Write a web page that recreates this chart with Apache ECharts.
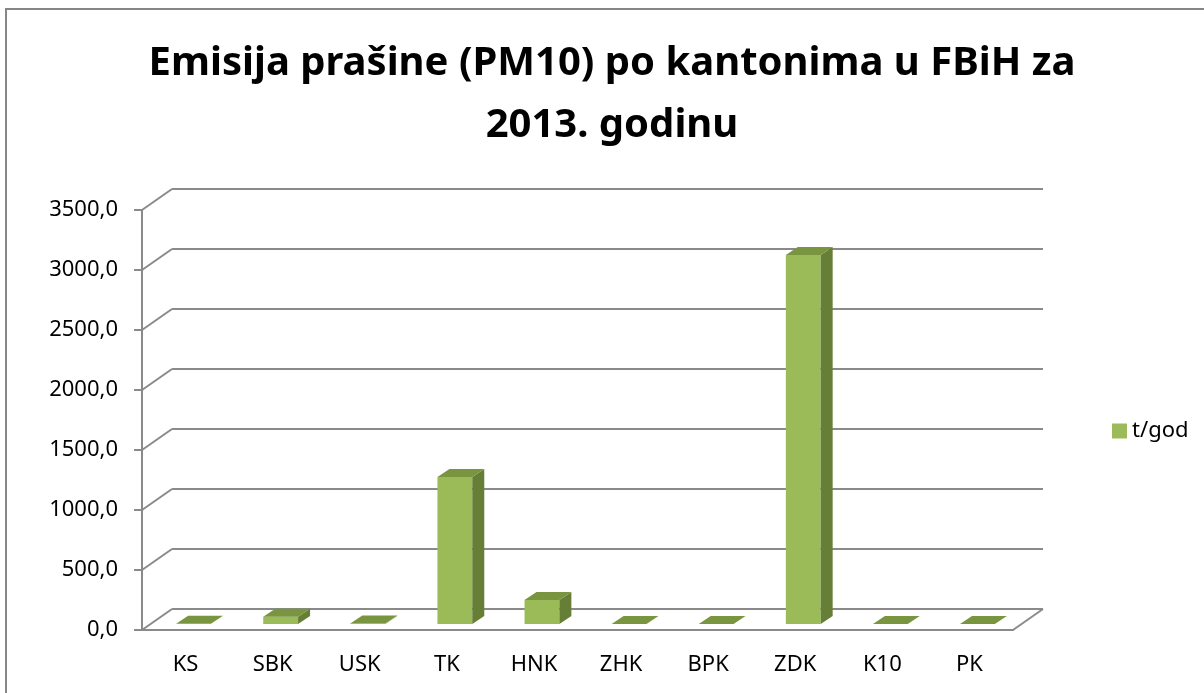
<!DOCTYPE html>
<html>
<head>
<meta charset="utf-8">
<script src="https://cdn.jsdelivr.net/npm/echarts@6/dist/echarts.min.js"></script>
<style>
  html, body { margin: 0; padding: 0; background: #fff; }
  #chart { width: 1204px; height: 693px; }
</style>
</head>
<body>
<div id="chart"></div>
<script>
var categories = ['KS', 'SBK', 'USK', 'TK', 'HNK', 'ZHK', 'BPK', 'ZDK', 'K10', 'PK']
var values = [3, 60, 5, 1225, 200, 1, 1, 3075, 0, 0]
var ticks = [0, 500, 1000, 1500, 2000, 2500, 3000, 3500]
var seriesName = 't/god'

// depth of the "3D" wall and bars
var wallDx = 30, wallDy = -21
var barDx = 12, barDy = -8
var barShiftX = 8, barShiftY = -6

var gray = '#8a8a8a'
var font = '"Noto Sans", sans-serif'

function fmt(v) {
    return v.toFixed(1).replace('.', ',')
}

let chart = echarts.init(document.getElementById('chart'));

let option = {
    animation: false,
    graphic: [
        {
            type: 'rect',
            shape: { x: 6, y: 9, width: 1400, height: 900 },
            style: { fill: 'none', stroke: '#868686', lineWidth: 2 },
            silent: true
        },
        {
            type: 'text',
            x: 612, y: 64,
            style: {
                text: 'Emisija prašine (PM10) po kantonima u FBiH za',
                fontFamily: font, fontWeight: 'bold', fontSize: 40,
                fill: '#000', align: 'center', verticalAlign: 'middle'
            }
        },
        {
            type: 'text',
            x: 612, y: 126,
            style: {
                text: '2013. godinu',
                fontFamily: font, fontWeight: 'bold', fontSize: 40,
                fill: '#000', align: 'center', verticalAlign: 'middle'
            }
        }
    ],
    legend: {
        data: [seriesName],
        left: 1107,
        top: 415,
        icon: 'rect',
        itemWidth: 15,
        itemHeight: 15,
        itemGap: 6,
        textStyle: { fontFamily: font, fontSize: 22, color: '#000' }
    },
    grid: [
        { left: 142, right: 191, top: 210, bottom: 63 },
        { left: 172, right: 161, top: 189, bottom: 84 }
    ],
    xAxis: [
        {
            type: 'category',
            gridIndex: 0,
            data: categories,
            axisLine: { lineStyle: { color: gray, width: 2 } },
            axisTick: { show: false },
            axisLabel: { color: '#000', fontFamily: font, fontSize: 22, margin: 24 }
        },
        {
            type: 'category',
            gridIndex: 1,
            data: categories,
            show: false
        }
    ],
    yAxis: [
        {
            type: 'value',
            gridIndex: 0,
            min: 0,
            max: 3500,
            interval: 500,
            axisLine: { show: true, lineStyle: { color: gray, width: 2 } },
            axisTick: { show: true, length: 8, lineStyle: { color: gray, width: 2 } },
            axisLabel: { color: '#000', fontFamily: font, fontSize: 22, margin: 24, formatter: fmt },
            splitLine: { show: false }
        },
        {
            type: 'value',
            gridIndex: 1,
            min: 0,
            max: 3500,
            interval: 500,
            axisLine: { show: false },
            axisTick: { show: false },
            axisLabel: { show: false },
            splitLine: { show: true, lineStyle: { color: gray, width: 2 } }
        }
    ],
    series: [
        {
            // connectors from front axis to back wall, plus right floor edge
            type: 'custom',
            xAxisIndex: 0,
            yAxisIndex: 0,
            silent: true,
            data: ticks.map(function (t) { return [0, t] }),
            renderItem: function (params, api) {
                var cs = params.coordSys
                var p = api.coord([0, api.value(1)])
                var kids = [{
                    type: 'line',
                    shape: { x1: cs.x, y1: p[1], x2: cs.x + wallDx, y2: p[1] + wallDy },
                    style: { stroke: gray, lineWidth: 2 }
                }]
                if (api.value(1) === 0) {
                    kids.push({
                        type: 'line',
                        shape: { x1: cs.x + cs.width, y1: p[1], x2: cs.x + cs.width + wallDx, y2: p[1] + wallDy },
                        style: { stroke: gray, lineWidth: 2 }
                    })
                }
                return { type: 'group', children: kids }
            }
        },
        {
            name: seriesName,
            type: 'custom',
            xAxisIndex: 0,
            yAxisIndex: 0,
            itemStyle: { color: '#9BBB59' },
            data: values.map(function (v, i) { return [i, v] }),
            renderItem: function (params, api) {
                var base = api.coord([api.value(0), 0])
                var top = api.coord([api.value(0), api.value(1)])
                var w = api.size([1, 0])[0] * 0.4
                var x = base[0] - w / 2 + barShiftX
                var y = top[1] + barShiftY
                var h = base[1] - top[1]
                var kids = []
                if (h > 0.5) {
                    kids.push({
                        type: 'rect',
                        shape: { x: x, y: y, width: w, height: h },
                        style: { fill: '#9BBB59' }
                    })
                    kids.push({
                        type: 'polygon',
                        shape: { points: [[x + w, y], [x + w + barDx, y + barDy], [x + w + barDx, y + h + barDy], [x + w, y + h]] },
                        style: { fill: '#677E37' }
                    })
                }
                kids.push({
                    type: 'polygon',
                    shape: { points: [[x, y], [x + barDx, y + barDy], [x + w + barDx, y + barDy], [x + w, y]] },
                    style: { fill: '#7A953F' }
                })
                return { type: 'group', children: kids }
            }
        }
    ]
};

chart.setOption(option);
</script>
</body>
</html>
